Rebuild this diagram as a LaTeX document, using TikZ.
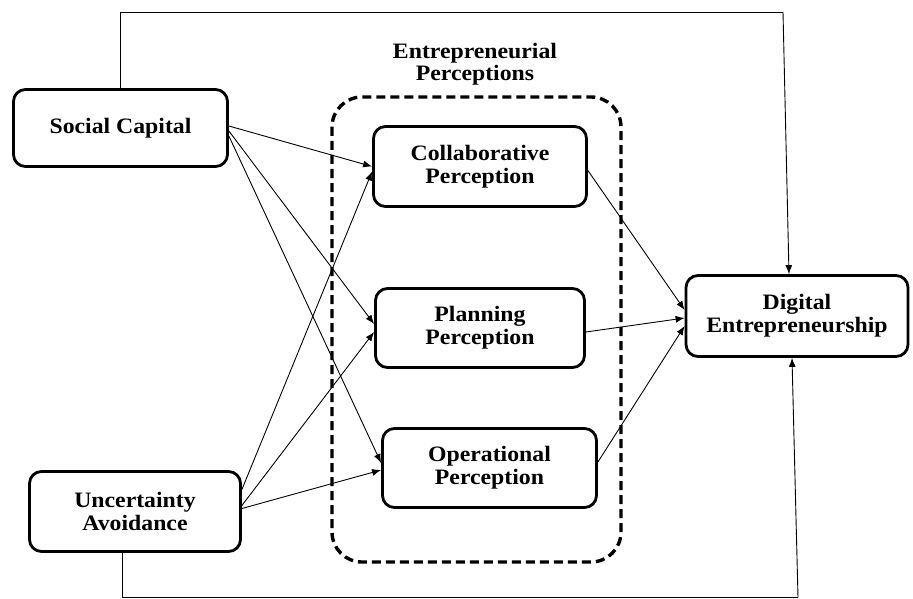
\documentclass[tikz,border=0pt]{standalone}
\usepackage{fontspec}
\setmainfont{Liberation Serif}[FakeStretch=1.08]
\usepackage{tikz}
\usetikzlibrary{arrows.meta}

\tikzset{
  factor/.style={draw=black, line width=2.8pt, rounded corners=12pt, fill=white,
    align=center, inner sep=0pt, font=\fontsize{22}{23}\selectfont\bfseries},
  link/.style={line width=0.9pt, -{Latex[length=9pt,width=7pt]}},
  frame/.style={line width=0.9pt}
}

\begin{document}
\begin{tikzpicture}[x=1pt, y=-1pt]
        \useasboundingbox (0,0) rectangle (913,599);

        % mediating group
        \draw[line width=3.4pt, dash pattern=on 9pt off 5pt, rounded corners=30pt]
            (332,97) rectangle (621,562);
        \node[align=center, font=\fontsize{22}{22}\selectfont\bfseries] (group) at (475,64)
            {Entrepreneurial\\Perceptions};

        % constructs
        \node[factor, minimum width=214pt, minimum height=77pt] (social) at (120.5,128) {Social Capital};
        \node[factor, minimum width=211pt, minimum height=80pt] (uncert) at (135,511.5) {Uncertainty\\Avoidance};
        \node[factor, minimum width=213pt, minimum height=80pt] (collab) at (480,166.5) {Collaborative\\Perception};
        \node[factor, minimum width=209pt, minimum height=79pt] (plan) at (480,328) {Planning\\Perception};
        \node[factor, minimum width=214pt, minimum height=79pt] (oper) at (489.5,468) {Operational\\Perception};
        \node[factor, minimum width=222pt, minimum height=81pt] (digital) at (797,316) {Digital\\Entrepreneurship};

        % direct paths
        \coordinate (topturn) at (783,12);
        \coordinate (botturn) at (798,597.5);
        \draw[frame] (social.north) -- (social.north |- topturn) -- (topturn);
        \draw[link] (topturn) -- ([xshift=-8pt]digital.north);
        \draw[frame] ([xshift=-13pt]uncert.south) -- ([xshift=-13pt]uncert.south |- botturn) -- (botturn);
        \draw[link] (botturn) -- ([xshift=-5pt]digital.south);

        % social capital
        \draw[link] ([yshift=2pt]social.east) -- (collab.west);
        \draw[link] ([yshift=-3pt]social.east) -- ([yshift=4pt]plan.west);
        \draw[link] ([yshift=-8pt]social.east) -- ([yshift=5pt]oper.west);

        % uncertainty avoidance
        \draw[link] ([yshift=22pt]uncert.east) -- ([yshift=-5pt]collab.west);
        \draw[link] ([yshift=6pt]uncert.east) -- ([yshift=-4pt]plan.west);
        \draw[link] ([yshift=3pt]uncert.east) -- ([yshift=-2pt]oper.west);

        % perceptions
        \draw[link] ([yshift=-4pt]collab.east) -- ([yshift=6pt]digital.west);
        \draw[link] ([yshift=-4pt]plan.east) -- ([yshift=-2pt]digital.west);
        \draw[link] ([yshift=6pt]oper.east) -- ([yshift=-10pt]digital.west);
\end{tikzpicture}
\end{document}
